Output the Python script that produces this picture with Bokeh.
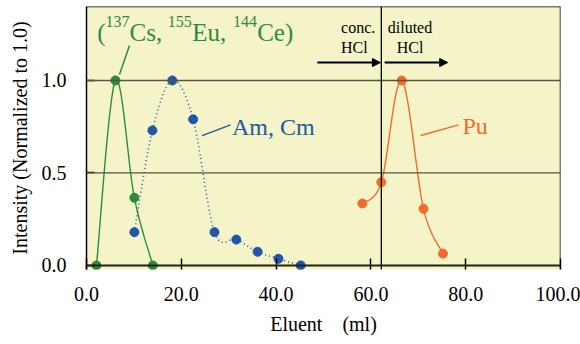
import numpy as np
from bokeh.plotting import figure
from bokeh.models import Span, Label, Arrow, NormalHead, FixedTicker, Range1d, NumeralTickFormatter
from bokeh.embed import file_html
from bokeh.resources import INLINE

# ---- data ----
cs_x = [2.1, 6.1, 10.1, 14.0]
cs_y = [0.0, 1.0, 0.366, 0.0]

am_x = [10.1, 13.9, 18.1, 22.5, 27.0, 31.6, 36.1, 40.5, 45.2]
am_y = [0.18, 0.73, 1.0, 0.79, 0.18, 0.14, 0.074, 0.036, 0.0]

pu_x = [58.2, 62.2, 66.5, 71.1, 75.2]
pu_y = [0.335, 0.45, 1.0, 0.306, 0.064]

x_ticks = [0, 20, 40, 60, 80, 100]
y_ticks = [0.0, 0.5, 1.0]
boundary_x = 62.2

GREEN = "#2F8A3E"
BLUE = "#2356A8"
ORANGE = "#F26A2E"
BG = "#F4F4C8"
GRID = "#55553C"
FONT = "Liberation Serif"


def smooth(xs, ys, n=24):
    """Smoothed (Catmull-Rom / Bezier) path through the data points, for drawing the line."""
    P = np.column_stack([xs, ys]).astype(float)
    P = np.vstack([P[0], P, P[-1]])
    out_x, out_y = [], []
    for i in range(1, len(P) - 2):
        p0, p1, p2, p3 = P[i - 1], P[i], P[i + 1], P[i + 2]
        c1 = p1 + (p2 - p0) / 6.0
        c2 = p2 - (p3 - p1) / 6.0
        t = np.linspace(0, 1, n)[:, None]
        b = ((1 - t) ** 3) * p1 + 3 * ((1 - t) ** 2) * t * c1 + 3 * (1 - t) * t ** 2 * c2 + t ** 3 * p2
        out_x.extend(b[:, 0]); out_y.extend(b[:, 1])
    return out_x, out_y


p = figure(width=580, height=344, output_backend="svg", toolbar_location=None,
           x_range=Range1d(0, 100), y_range=Range1d(-0.022, 1.40),
           min_border_left=86, min_border_right=20, min_border_top=6, min_border_bottom=75)
p.background_fill_color = BG
p.border_fill_color = "white"
p.outline_line_color = None
p.xgrid.visible = False
p.ygrid.visible = False

# axes
p.xaxis.ticker = FixedTicker(ticks=x_ticks)
p.yaxis.ticker = FixedTicker(ticks=y_ticks)
p.xaxis.formatter = NumeralTickFormatter(format="0.0")
p.yaxis.formatter = NumeralTickFormatter(format="0.0")
for axl in (p.xaxis, p.yaxis):
    axl.major_label_text_font = FONT
    axl.major_label_text_font_size = "20px"
    axl.major_label_text_color = "black"
    axl.axis_label_text_font = FONT
    axl.axis_label_text_font_size = "20px"
    axl.axis_label_text_font_style = "normal"
    axl.axis_label_text_color = "black"
    axl.minor_tick_line_color = None
    axl.major_tick_out = 0
    axl.major_tick_line_color = "black"
    axl.major_tick_line_width = 1.5
p.xaxis.major_tick_in = 11
p.yaxis.major_tick_in = 8
p.xaxis.axis_line_color = None
p.yaxis.axis_line_color = "black"
p.yaxis.axis_line_width = 1.5
p.xaxis.major_label_standoff = 17
p.yaxis.major_label_standoff = 20
p.xaxis.axis_label = "Eluent\u00a0\u00a0\u00a0\u00a0(ml)"
p.yaxis.axis_label = "Intensity (Normalized to 1.0)"
p.xaxis.axis_label_standoff = 9
p.yaxis.axis_label_standoff = 8

# frame lines, grid lines and boundary
p.add_layout(Span(location=0, dimension="width", line_color="#222211", line_width=2))
p.add_layout(Span(location=1.4, dimension="width", line_color="black", line_width=1.5))
p.add_layout(Span(location=100, dimension="height", line_color="black", line_width=1.5))
for g in (0.5, 1.0):
    p.add_layout(Span(location=g, dimension="width", line_color=GRID, line_width=1.3))
p.add_layout(Span(location=boundary_x, dimension="height", line_color="black", line_width=1.3))

# series
sx, sy = smooth(cs_x, cs_y)
p.line(sx, sy, line_color=GREEN, line_width=1.4)
p.scatter(cs_x, cs_y, size=9, fill_color=GREEN, line_color=GREEN)

sx, sy = smooth(am_x, am_y)
p.line(sx, sy, line_color=BLUE, line_width=1.6, line_dash="1 3")
p.scatter(am_x, am_y, size=9, fill_color=BLUE, line_color=BLUE)

sx, sy = smooth(pu_x, pu_y)
p.line(sx, sy, line_color=ORANGE, line_width=1.4)
p.scatter(pu_x, pu_y, size=9, fill_color=ORANGE, line_color=ORANGE)

# leader lines
p.line([6.96, 9.07], [1.032, 1.189], line_color=GREEN, line_width=1.5)
p.line([24.4, 30.4], [0.702, 0.760], line_color=BLUE, line_width=1.5)
p.line([70.5, 78.5], [0.702, 0.760], line_color=ORANGE, line_width=1.5)

# labels
def lab(x, y, text, color, size, align="left"):
    p.add_layout(Label(x=x, y=y, text=text, text_color=color, text_font=FONT,
                       text_font_size=size, text_align=align, text_baseline="alphabetic"))

pieces = [("(", 2.26, False), ("137", 4.01, True), ("Cs,", 9.07, False),
          ("155", 17.15, True), ("Eu,", 22.30, False), ("144", 30.93, True), ("Ce)", 36.0, False)]
for t, x, sup in pieces:
    if sup:
        lab(x, 1.319, t, GREEN, "16px")
    else:
        lab(x, 1.262, t, GREEN, "25px")

lab(30.7, 0.750, "Am, Cm", BLUE, "24px")
lab(79.3, 0.754, "Pu", ORANGE, "24px")

lab(53.7, 1.284, "conc.", "black", "16px")
lab(53.7, 1.180, "HCl", "black", "16px")
lab(68.25, 1.284, "diluted", "black", "16px", "center")
lab(68.25, 1.180, "HCl", "black", "16px", "center")

p.add_layout(Arrow(x_start=48.7, y_start=1.097, x_end=62.0, y_end=1.097, line_width=2,
                   end=NormalHead(size=8, fill_color="black", line_color="black")))
p.add_layout(Arrow(x_start=62.9, y_start=1.097, x_end=76.2, y_end=1.097, line_width=2,
                   end=NormalHead(size=8, fill_color="black", line_color="black")))

open("out.html", "w").write(file_html(p, INLINE))
